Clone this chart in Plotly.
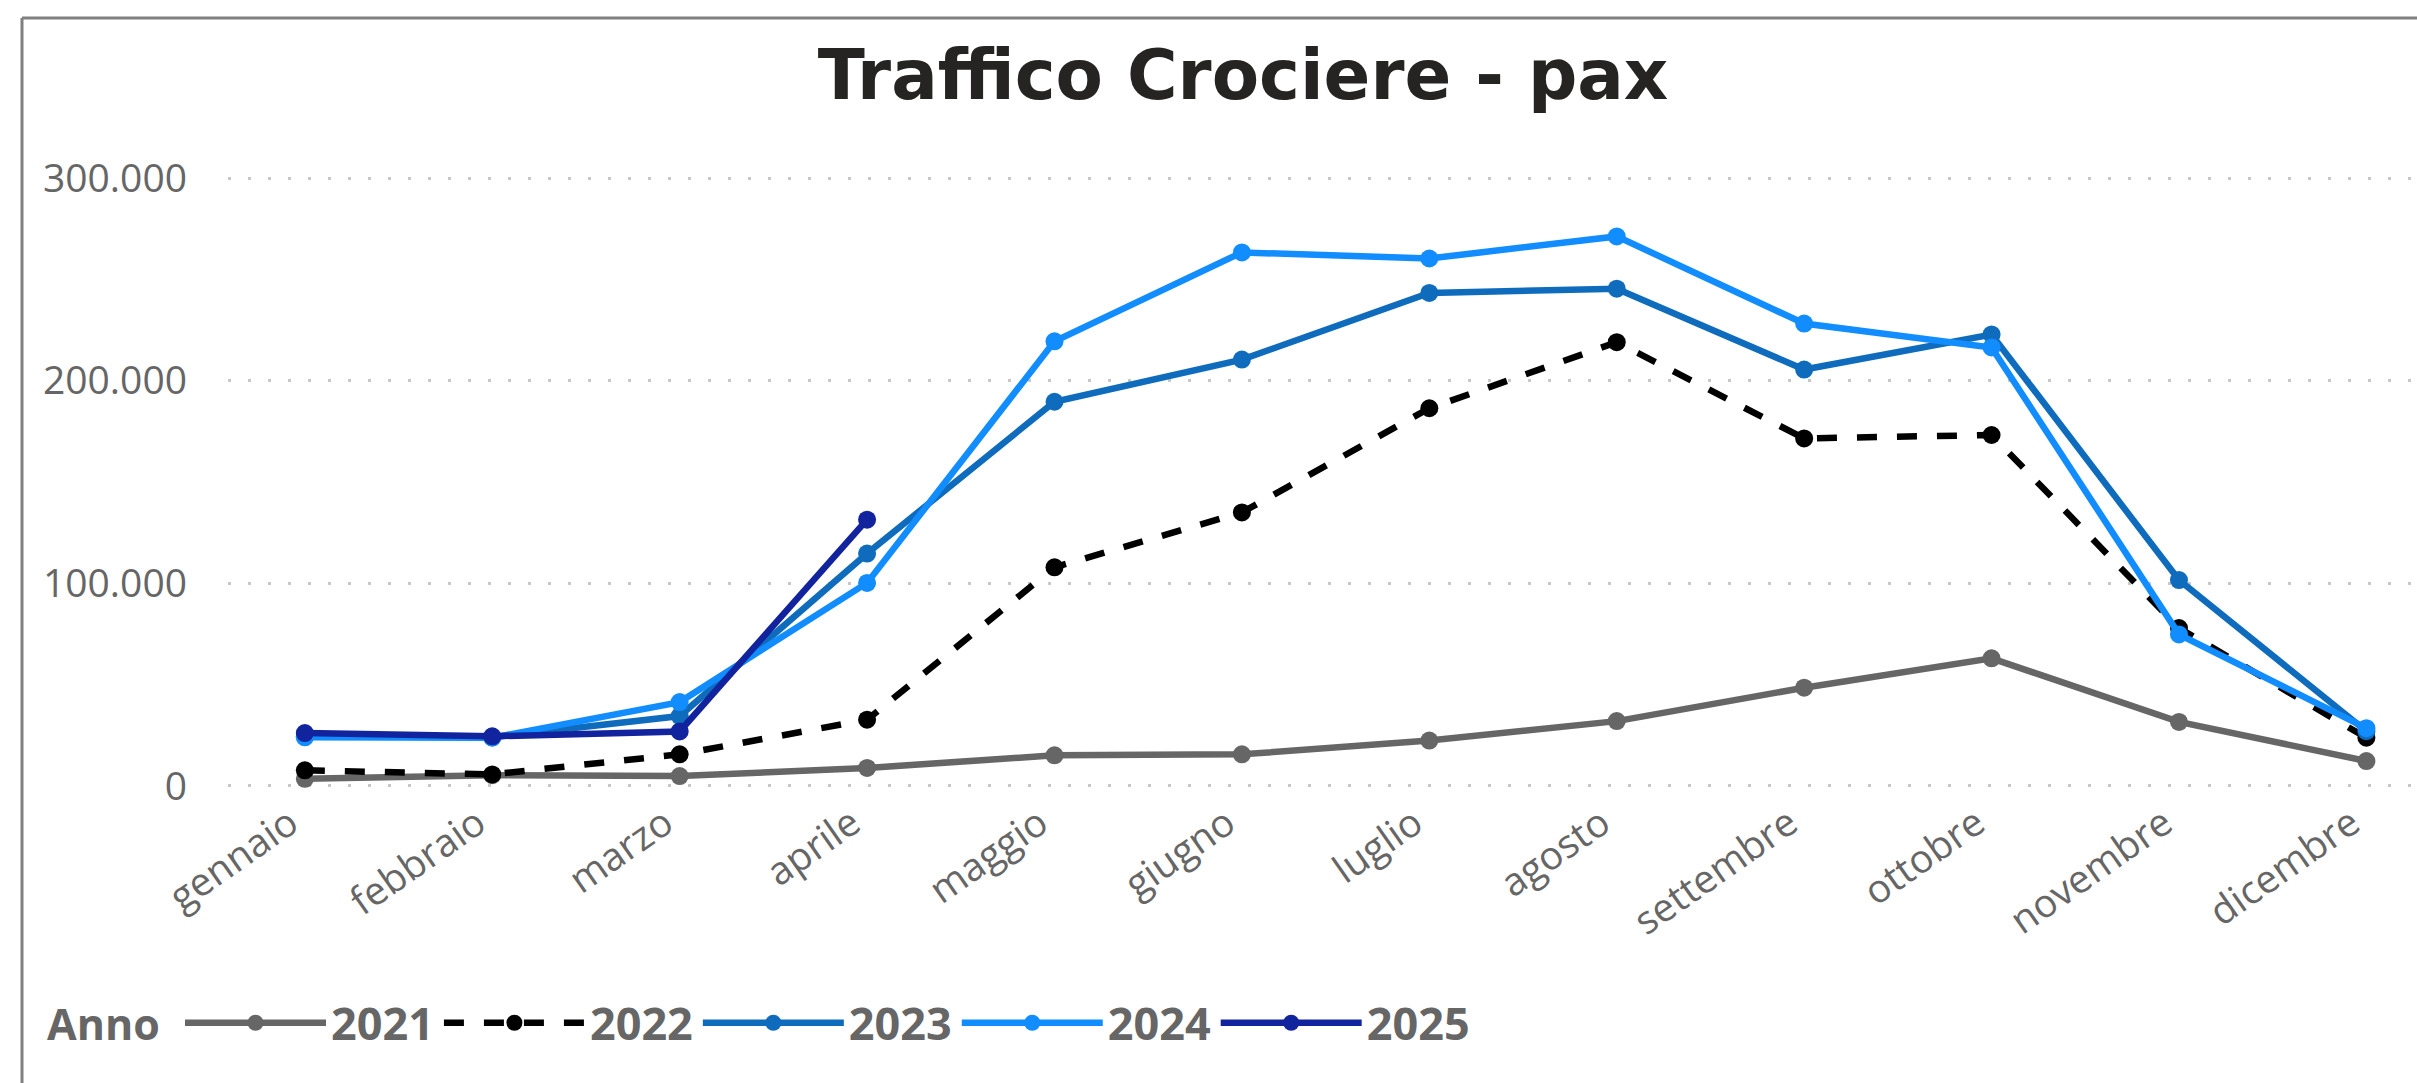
import plotly.graph_objects as go

# ---- data ----
months = ["gennaio", "febbraio", "marzo", "aprile", "maggio", "giugno",
          "luglio", "agosto", "settembre", "ottobre", "novembre", "dicembre"]
y2021 = [3500, 5300, 4900, 8900, 15100, 15600, 22400, 32000, 48500, 63000, 31600, 12300]
y2022 = [7700, 5700, 15600, 32700, 107900, 135000, 186400, 219000, 171500, 173200, 77900, 23800]
y2023 = [24500, 24000, 34500, 114700, 189600, 210400, 243300, 245400, 205500, 222800, 101600, 27000]
y2024 = [24000, 23800, 41400, 100200, 219400, 263300, 260300, 271200, 228200, 216400, 74800, 28500]
y2025 = [26100, 24500, 26900, 131400]
years = ["2021", "2022", "2023", "2024", "2025"]
colors = ["#666666", "#000000", "#0F6CBD", "#118DFF", "#12239E"]
dashes = ["solid", "20px,20px", "solid", "solid", "solid"]
series = [y2021, y2022, y2023, y2024, y2025]

W, H = 2417, 1083
ML, MR, MT, MB = 228, 0, 175, 294

fig = go.Figure()
for name, vals, col, dash in zip(years, series, colors, dashes):
    fig.add_trace(go.Scatter(
        x=months[:len(vals)], y=vals, name=name, mode="lines+markers",
        line=dict(color=col, width=6.5, dash=dash),
        marker=dict(color=col, size=18),
        cliponaxis=False,
    ))

tickfont = dict(family="Open Sans, Noto Sans, sans-serif", size=39, color="#666666")

fig.update_layout(
    width=W, height=H,
    margin=dict(l=ML, r=MR, t=MT, b=MB, autoexpand=False),
    paper_bgcolor="white", plot_bgcolor="white",
    separators=",.",
    showlegend=True,
    title=dict(
        text="Traffico Crociere - pax",
        font=dict(family="DejaVu Sans, sans-serif", size=69, color="#252423", weight="bold"),
        xref="container", yref="container",
        x=1243 / W, y=1 - 75 / H, xanchor="center", yanchor="middle",
    ),
    xaxis=dict(
        type="category", categoryorder="array", categoryarray=months,
        range=[-0.41, 11.27], showgrid=False, zeroline=False, showline=False,
        ticks="", tickangle=-35, tickfont=tickfont, ticklabelstandoff=3,
        ticklabelshift=-15,
    ),
    yaxis=dict(
        range=[-1500, 301500], tickvals=[0, 100000, 200000, 300000],
        tickformat=",d", showgrid=True, gridcolor="#C8C8C8", gridwidth=3,
        griddash="3px,17px", zeroline=False, showline=False, ticks="",
        tickfont=tickfont, ticklabelstandoff=40,
    ),
    legend=dict(
        orientation="h", xref="container", yref="container",
        x=180 / W, y=1 - 1023 / H, xanchor="left", yanchor="middle",
        font=dict(family="Open Sans, sans-serif", size=45, color="#666666", weight="bold"),
        itemwidth=141, itemsizing="trace", bgcolor="rgba(0,0,0,0)",
    ),
    annotations=[dict(
        text="<b>Anno</b>", xref="paper", yref="paper",
        x=(45 - ML) / (W - ML - MR), y=(H - MB - 1023) / (H - MT - MB),
        xanchor="left", yanchor="middle", showarrow=False,
        font=dict(family="Open Sans, sans-serif", size=43, color="#666666"),
    )],
)

# frame border (left and top edges of the visual container)
pw = W - ML - MR
ph = H - MT - MB
x0 = (22 - ML) / pw
y0 = (H - MB - 18) / ph
fig.add_shape(type="line", xref="paper", yref="paper", x0=x0, x1=x0, y0=y0, y1=(H - MB - H - 10) / ph,
              line=dict(color="#808080", width=3))
fig.add_shape(type="line", xref="paper", yref="paper", x0=x0, x1=(W + 10 - ML) / pw, y0=y0, y1=y0,
              line=dict(color="#808080", width=3))

fig.write_html("out.html", config={"displayModeBar": False},
               post_script="document.body.style.margin='0';")
